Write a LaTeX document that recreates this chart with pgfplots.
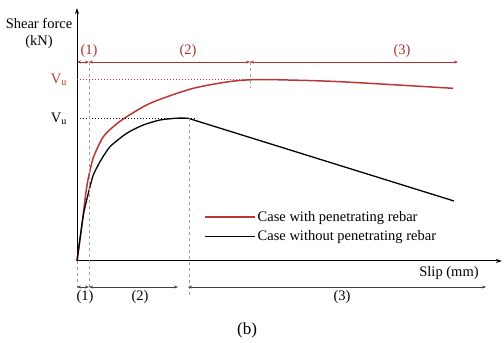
\documentclass[border=0pt]{standalone}
\usepackage{pgfplots}
\pgfplotsset{compat=1.18}
\usepackage{fontspec}
\setmainfont{Liberation Serif}
\usetikzlibrary{arrows.meta}
\definecolor{cred}{RGB}{185,55,55}
\definecolor{dred}{RGB}{170,50,50}
\definecolor{dgrey}{RGB}{160,160,160}
\begin{document}
\begin{tikzpicture}
\begin{axis}[x=1pt,y=1pt,xmin=-77,xmax=427,ymin=-82,ymax=261,
  hide axis,clip=false,
  legend style={at={(axis cs:124,54)},anchor=north west,draw=none,fill=none,
    font=\fontsize{14.5}{17}\selectfont,row sep=4pt,
    legend cell align=left},
  legend image code/.code={\draw[#1] (0pt,0pt) -- (43pt,0pt); \path (0pt,0pt) -- (50pt,0pt);},
  ]
\path (axis cs:-77,-82) rectangle (axis cs:427,261);
% axes
\draw[-{Stealth[length=6pt,width=4pt]},line width=1pt] (axis cs:0,0) -- (axis cs:425,0);
\draw[-{Stealth[length=6pt,width=4pt]},line width=1pt] (axis cs:0,0) -- (axis cs:0,253);
% curves
\addplot[cred,line width=1.5pt,smooth,tension=0.5] coordinates {
(0,0) (4.7,34) (9.7,74) (14.7,97.7) (18,107.7) (26.3,124.3) (36.3,134.3) (46.3,142) (66.3,154.3) (83,161.7) (116.3,172.7) (149.7,179) (169.7,181) (186,181.5) (203,181.2) (263,179.3) (376,172.7)};
\addlegendentry{Case with penetrating rebar}
\addplot[black,line width=1.3pt,smooth,tension=0.4] coordinates {
(0,0) (6,44) (9.7,61) (13,74.3) (16.3,86) (23,99.3) (33,114.3) (49.7,127.7) (66.3,136) (83,141) (99.7,142.8) (111,142.8)};
\addlegendentry{Case without penetrating rebar}
\addplot[black,line width=1.3pt,forget plot] coordinates {(111,142.8) (377,60)};
% guide lines
\addplot[cred,dotted,line width=1pt,forget plot] coordinates {(0,181.5) (173,181.5)};
\addplot[black,dotted,line width=1pt,forget plot] coordinates {(0,142.5) (119,142.5)};
\addplot[dgrey,dashed,line width=0.8pt,forget plot] coordinates {(12,199) (12,-29)};
\addplot[dgrey,dashed,line width=0.8pt,forget plot] coordinates {(0,0) (0,-29)};
\addplot[dgrey,dashed,line width=0.8pt,forget plot] coordinates {(173,199) (173,173)};
\addplot[dgrey,dashed,line width=0.8pt,forget plot] coordinates {(112,143) (112,-36)};
% top region arrows
\begin{scope}[dred,line width=0.8pt,{Stealth[length=4pt,width=3pt]}-{Stealth[length=4pt,width=3pt]}]
\draw (axis cs:0,199) -- (axis cs:12,199);
\draw (axis cs:12,199) -- (axis cs:173,199);
\draw (axis cs:173,199) -- (axis cs:381,199);
\end{scope}
\node[dred,font=\fontsize{14.5}{17}\selectfont] at (axis cs:12,210) {(1)};
\node[dred,font=\fontsize{14.5}{17}\selectfont] at (axis cs:111,210) {(2)};
\node[dred,font=\fontsize{14.5}{17}\selectfont] at (axis cs:325,210) {(3)};
% bottom region arrows
\begin{scope}[black!75,line width=0.8pt,{Stealth[length=4pt,width=3pt]}-{Stealth[length=4pt,width=3pt]}]
\draw (axis cs:0,-26) -- (axis cs:12,-26);
\draw (axis cs:12,-26) -- (axis cs:101,-26);
\draw (axis cs:111,-26) -- (axis cs:409,-26);
\end{scope}
\node[font=\fontsize{14.5}{17}\selectfont] at (axis cs:8,-36) {(1)};
\node[font=\fontsize{14.5}{17}\selectfont] at (axis cs:63,-36) {(2)};
\node[font=\fontsize{14.5}{17}\selectfont] at (axis cs:265,-36) {(3)};
% labels
\node[font=\fontsize{14.5}{17}\selectfont] at (axis cs:372,-12) {Slip (mm)};
\node[font=\fontsize{14.5}{17}\selectfont,align=center] at (axis cs:-38,228) {Shear force\\(kN)};
\node[cred,font=\fontsize{14.5}{17}\selectfont] at (axis cs:-18,181) {V\textsubscript{u}};
\node[font=\fontsize{14.5}{17}\selectfont] at (axis cs:-18,142) {V\textsubscript{u}};
\node[font=\fontsize{17}{20}\selectfont] at (axis cs:170,-69) {(b)};
\end{axis}
\end{tikzpicture}
\end{document}
